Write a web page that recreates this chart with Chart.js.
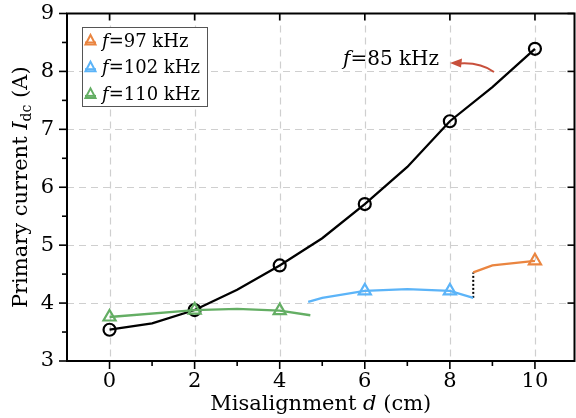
<!DOCTYPE html>
<html><head><meta charset="utf-8">
<script src="https://cdn.jsdelivr.net/npm/chart.js@4.4.1/dist/chart.umd.min.js"></script>
<style>html,body{margin:0;padding:0;background:#fff}#wrap{width:576px;height:418px}</style>
</head><body><div id="wrap"><canvas id="c" width="576" height="418"></canvas></div>
<script>
// ---- data ----
const xTickValues = [0, 2, 4, 6, 8, 10];
const yTickValues = [3, 4, 5, 6, 7, 8, 9];

const x85 = [0, 1, 2, 3, 4, 5, 6, 7, 8, 9, 10];
const y85 = [3.54, 3.65, 3.88, 4.23, 4.65, 5.12, 5.71, 6.35, 7.14, 7.73, 8.39];
const m85 = [true, false, true, false, true, false, true, false, true, false, true];

const x110 = [0, 2, 3, 4, 4.72];
const y110 = [3.76, 3.88, 3.90, 3.87, 3.79];
const m110 = [true, true, false, true, false];

const x102 = [4.67, 5, 6, 7, 8, 8.55];
const y102 = [4.02, 4.09, 4.21, 4.24, 4.21, 4.09];
const m102 = [false, false, true, false, true, false];

const x97 = [8.55, 9, 10];
const y97 = [4.53, 4.65, 4.73];
const m97 = [false, false, true];

const xJump = [8.55, 8.55];
const yJump = [4.09, 4.53];

const legendLabels = ['=97 kHz', '=102 kHz', '=110 kHz'];
const annotationLabel = '=85 kHz';

const C97 = 'rgb(234,133,64)', C102 = 'rgb(92,180,248)', C110 = 'rgb(100,174,100)';
const FONT = '"DejaVu Serif", "Liberation Serif", serif';

const pts = (xs, ys) => xs.map((x, i) => ({x, y: ys[i]}));

function series(xs, ys, marks, color, style) {
  return {
    data: pts(xs, ys), borderColor: color, backgroundColor: 'rgba(0,0,0,0)',
    borderWidth: 2.3, showLine: true, tension: 0,
    pointStyle: style, pointBorderColor: color, pointBackgroundColor: 'rgba(0,0,0,0)',
    pointBorderWidth: 2.2,
    pointRadius: ctx => marks[ctx.dataIndex] ? (style === 'circle' ? 6 : 7) : 0,
    pointHoverRadius: 0
  };
}

function drawParts(ctx, parts, x, y) {
  let cx = x;
  parts.forEach(p => { ctx.font = p.f; ctx.fillText(p.t, cx, y + (p.dy || 0)); cx += ctx.measureText(p.t).width; });
}
function partsWidth(ctx, parts) {
  let w = 0; parts.forEach(p => { ctx.font = p.f; w += ctx.measureText(p.t).width; }); return w;
}

const decor = {
  id: 'decor',
  beforeDatasetsDraw(chart) {
    const {ctx, chartArea: a, scales: {x, y}} = chart;
    ctx.save();
    ctx.strokeStyle = '#cfcfcf'; ctx.lineWidth = 1.2; ctx.setLineDash([7, 5]);
    xTickValues.forEach(v => { const px = Math.round(x.getPixelForValue(v)) + 0.5;
      ctx.beginPath(); ctx.moveTo(px, a.top); ctx.lineTo(px, a.bottom); ctx.stroke(); });
    yTickValues.slice(1, -1).forEach(v => { const py = Math.round(y.getPixelForValue(v)) + 0.5;
      ctx.beginPath(); ctx.moveTo(a.left, py); ctx.lineTo(a.right, py); ctx.stroke(); });
    ctx.restore();
  },
  afterDatasetsDraw(chart) {
    const {ctx, chartArea: a, scales: {x, y}} = chart;
    ctx.save();
    // frame
    ctx.strokeStyle = '#000'; ctx.lineWidth = 2; ctx.setLineDash([]);
    ctx.strokeRect(a.left, a.top, a.right - a.left, a.bottom - a.top);
    ctx.lineWidth = 1.6;
    for (let v = 0; v <= 10; v++) {
      const px = x.getPixelForValue(v);
      const major = v % 2 === 0;
      ctx.beginPath(); ctx.moveTo(px, a.bottom); ctx.lineTo(px, a.bottom + (major ? 8 : 5)); ctx.stroke();
      if (major) { ctx.beginPath(); ctx.moveTo(px, a.top); ctx.lineTo(px, a.top + 7); ctx.stroke(); }
    }
    for (let v = 3; v <= 9.001; v += 0.5) {
      const py = y.getPixelForValue(v);
      const major = Math.abs(v - Math.round(v)) < 1e-6;
      ctx.beginPath(); ctx.moveTo(a.left, py); ctx.lineTo(a.left - (major ? 8 : 5), py); ctx.stroke();
      if (major) { ctx.beginPath(); ctx.moveTo(a.right, py); ctx.lineTo(a.right - 7, py); ctx.stroke(); }
    }
    ctx.fillStyle = '#000';
    ctx.textBaseline = 'alphabetic';
    // x title
    const xParts = [{t: 'Misalignment ', f: '21px ' + FONT}, {t: 'd', f: 'italic 21px ' + FONT}, {t: ' (cm)', f: '21px ' + FONT}];
    drawParts(ctx, xParts, (a.left + a.right) / 2 - partsWidth(ctx, xParts) / 2, 410);
    // y title
    ctx.save();
    ctx.translate(27, (a.top + a.bottom) / 2); ctx.rotate(-Math.PI / 2);
    const yParts = [{t: 'Primary current ', f: '21px ' + FONT}, {t: 'I', f: 'italic 21px ' + FONT},
      {t: 'dc', f: '14px ' + FONT, dy: 4}, {t: ' (A)', f: '21px ' + FONT}];
    drawParts(ctx, yParts, -partsWidth(ctx, yParts) / 2, 0);
    ctx.restore();
    // legend
    const lx = 82, ly = 27, lw = 125, lh = 79;
    ctx.fillStyle = '#fff'; ctx.fillRect(lx, ly, lw, lh);
    ctx.strokeStyle = '#555'; ctx.lineWidth = 1; ctx.strokeRect(lx + 0.5, ly + 0.5, lw, lh);
    const cols = [C97, C102, C110];
    legendLabels.forEach((t, i) => {
      const cy = 40 + i * 26.7;
      ctx.strokeStyle = cols[i]; ctx.lineWidth = 2;
      ctx.beginPath(); ctx.moveTo(85, cy + 2.5); ctx.lineTo(96, cy + 2.5); ctx.stroke();
      ctx.beginPath(); ctx.moveTo(90.5, cy - 5); ctx.lineTo(95.5, cy + 4.5); ctx.lineTo(85.5, cy + 4.5); ctx.closePath(); ctx.stroke();
      ctx.fillStyle = '#000';
      drawParts(ctx, [{t: 'f', f: 'italic 18px ' + FONT}, {t: t, f: '18px ' + FONT}], 102, cy + 6.5);
    });
    // annotation
    ctx.fillStyle = '#000';
    drawParts(ctx, [{t: 'f', f: 'italic 20px ' + FONT}, {t: annotationLabel, f: '20px ' + FONT}], 343, 65);
    // arrow
    ctx.strokeStyle = 'rgb(200,80,60)'; ctx.fillStyle = 'rgb(200,80,60)'; ctx.lineWidth = 2;
    ctx.beginPath(); ctx.moveTo(494, 72); ctx.quadraticCurveTo(480, 62, 459, 63.5); ctx.stroke();
    ctx.beginPath(); ctx.moveTo(450, 63); ctx.lineTo(462, 58.5); ctx.lineTo(461, 67.5); ctx.closePath(); ctx.fill();
    ctx.restore();
  }
};

new Chart(document.getElementById('c'), {
  type: 'scatter',
  data: {
    datasets: [
      series(x110, y110, m110, C110, 'triangle'),
      series(x102, y102, m102, C102, 'triangle'),
      series(x97, y97, m97, C97, 'triangle'),
      series(x85, y85, m85, '#000', 'circle'),
      {data: pts(xJump, yJump), borderColor: '#000', borderWidth: 2, borderDash: [2, 2], showLine: true, pointRadius: 0, fill: false}
    ]
  },
  options: {
    responsive: false, animation: false, devicePixelRatio: 1,
    layout: {autoPadding: false, padding: {top: 13.5, right: 1.5, left: 0, bottom: 0}},
    plugins: {legend: {display: false}, tooltip: {enabled: false}},
    scales: {
      x: {
        type: 'linear', min: -1, max: 10.93,
        afterBuildTicks: s => { s.ticks = xTickValues.map(v => ({value: v})); },
        afterFit: s => { s.height = 57; s.paddingLeft = 0; s.paddingRight = 0; },
        grid: {display: false, drawTicks: false}, border: {display: false},
        ticks: {color: '#000', font: {family: FONT, size: 21}, padding: 8, maxRotation: 0}
      },
      y: {
        type: 'linear', min: 3, max: 9,
        afterBuildTicks: s => { s.ticks = yTickValues.map(v => ({value: v})); },
        afterFit: s => { s.width = 67; s.paddingTop = 0; s.paddingBottom = 0; },
        grid: {display: false, drawTicks: false}, border: {display: false},
        ticks: {color: '#000', font: {family: FONT, size: 21}, padding: 13}
      }
    }
  },
  plugins: [decor]
});
</script></body></html>
